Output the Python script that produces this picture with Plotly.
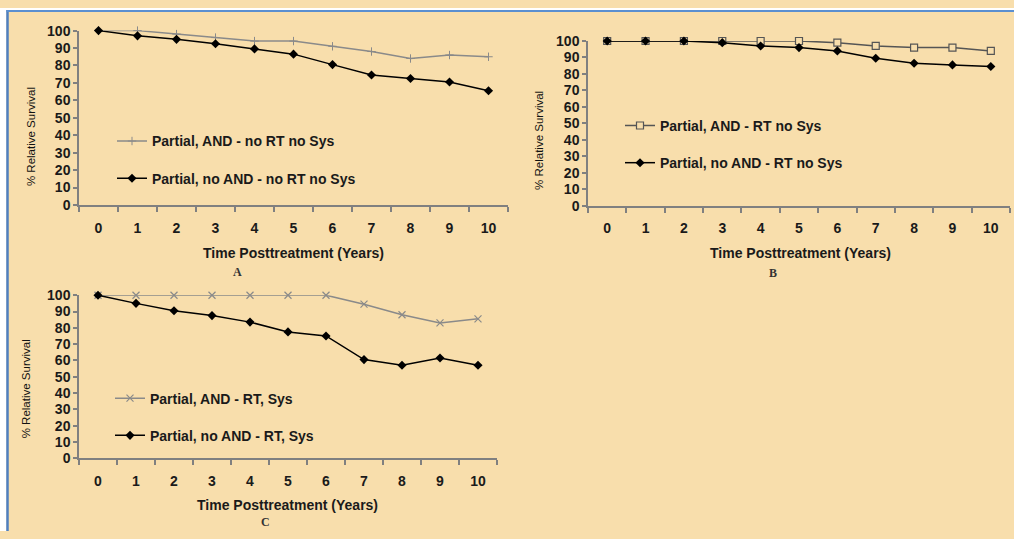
import plotly.graph_objects as go

W, H = 1014, 539

years = ["0", "1", "2", "3", "4", "5", "6", "7", "8", "9", "10"]
y_ticks = [0, 10, 20, 30, 40, 50, 60, 70, 80, 90, 100]

a_and = [100, 100, 98, 96, 94, 94, 91, 88, 84, 86, 85]
a_noand = [100, 97, 95, 92.5, 89.5, 86.5, 80.5, 74.5, 72.5, 70.5, 65.5]
b_and = [100, 100, 100, 100, 100, 100, 99, 97, 96, 96, 94]
b_noand = [100, 100, 100, 99, 97, 96, 94, 89.5, 86.5, 85.5, 84.5]
c_and = [100, 100, 100, 100, 100, 100, 100, 94.5, 88, 83, 85.5]
c_noand = [100, 95, 90.5, 87.5, 83.5, 77.5, 75, 60.5, 57, 61.5, 57]

names = {
    "a_and": "Partial, AND - no RT no Sys",
    "a_noand": "Partial, no AND - no RT no Sys",
    "b_and": "Partial, AND - RT no Sys",
    "b_noand": "Partial, no AND - RT no Sys",
    "c_and": "Partial, AND - RT, Sys",
    "c_noand": "Partial, no AND - RT, Sys",
}

BG = "#F8DEAC"
AXC = "#808080"
FONT = "Liberation Sans, Arial, sans-serif"
NARROW = "Liberation Sans Narrow, Arial Narrow, Liberation Sans, sans-serif"
SERIF = "Liberation Serif, Times New Roman, serif"


def px_x(p):
    return p / W


def px_y(p):
    return 1 - p / H


fig = go.Figure()

black = dict(color="black", width=1.5)

# Panel A
fig.add_trace(go.Scatter(x=years, y=a_and, name=names["a_and"], mode="lines+markers",
                         line=dict(color="#8a8a8a", width=1.5),
                         marker=dict(symbol="cross-thin", size=6, line=dict(color="#8a8a8a", width=1)),
                         xaxis="x", yaxis="y", legend="legend", legendgroup="a1", cliponaxis=False))
fig.add_trace(go.Scatter(x=years, y=a_noand, name=names["a_noand"], mode="lines+markers",
                         line=black, marker=dict(symbol="diamond", size=7, color="black"),
                         xaxis="x", yaxis="y", legend="legend", legendgroup="a2", cliponaxis=False))
# Panel B
fig.add_trace(go.Scatter(x=years, y=b_and, name=names["b_and"], mode="lines+markers",
                         line=dict(color="#555555", width=1.5),
                         marker=dict(symbol="square", size=7, color=BG, line=dict(color="#555555", width=1.2)),
                         xaxis="x2", yaxis="y2", legend="legend2", legendgroup="b1", cliponaxis=False))
fig.add_trace(go.Scatter(x=years, y=b_noand, name=names["b_noand"], mode="lines+markers",
                         line=black, marker=dict(symbol="diamond", size=7, color="black"),
                         xaxis="x2", yaxis="y2", legend="legend2", legendgroup="b2", cliponaxis=False))
# Panel C
fig.add_trace(go.Scatter(x=years, y=c_and, name=names["c_and"], mode="lines+markers",
                         line=dict(color="#8a8a8a", width=1.5),
                         marker=dict(symbol="x-thin", size=7, line=dict(color="#8a8a8a", width=1.2)),
                         xaxis="x3", yaxis="y3", legend="legend3", legendgroup="c1", cliponaxis=False))
fig.add_trace(go.Scatter(x=years, y=c_noand, name=names["c_noand"], mode="lines+markers",
                         line=black, marker=dict(symbol="diamond", size=7, color="black"),
                         xaxis="x3", yaxis="y3", legend="legend3", legendgroup="c2", cliponaxis=False))


def xax(domain, anchor):
    return dict(domain=domain, anchor=anchor, type="category", categoryorder="array",
                categoryarray=years, range=[-0.5, 10.5], tickson="boundaries",
                showline=True, linecolor=AXC, linewidth=1.5, ticks="outside", ticklen=5,
                tickwidth=1.5, tickcolor=AXC, showgrid=False, zeroline=False,
                ticklabelstandoff=9,
                tickfont=dict(family=FONT, size=14, color="#1a1a1a", weight="bold"))


def yax(domain, anchor):
    return dict(domain=domain, anchor=anchor, range=[0, 100], tickvals=y_ticks,
                showline=True, linecolor=AXC, linewidth=1.5, ticks="outside", ticklen=4,
                tickwidth=1.5, tickcolor=AXC, showgrid=False, zeroline=False,
                tickfont=dict(family=FONT, size=14, color="#1a1a1a", weight="bold"))


legfont = dict(family=FONT, size=14, color="#1a1a1a", weight="bold")


def leg(xp, yp):
    return dict(x=px_x(xp), y=px_y(yp), xanchor="left", yanchor="top", bgcolor="rgba(0,0,0,0)",
                borderwidth=0, font=legfont, traceorder="grouped", tracegroupgap=16,
                itemclick=False, itemdoubleclick=False)


annotations = []


def ann(text, xp, yp, font, angle=0):
    annotations.append(dict(text=text, x=px_x(xp), y=px_y(yp), xref="paper", yref="paper",
                            showarrow=False, font=font, textangle=angle,
                            xanchor="center", yanchor="middle"))


titlefont = dict(family=FONT, size=14, color="#1a1a1a", weight="bold")
yfont = dict(family=NARROW, size=11.5, color="#111111")
labfont = dict(family=SERIF, size=12, color="#333333", weight="bold")

ann("Time Posttreatment (Years)", 293, 253, titlefont)
ann("Time Posttreatment (Years)", 800, 252, titlefont)
ann("Time Posttreatment (Years)", 287, 512, titlefont)
ann("% Relative Survival", 31, 133, yfont, -90)
ann("% Relative Survival", 539, 137, yfont, -90)
ann("% Relative Survival", 26, 393, yfont, -90)
ann("A", 237, 272, labfont)
ann("B", 773, 273, labfont)
ann("C", 265, 530, labfont)

shapes = [
    dict(type="rect", xref="paper", yref="paper", x0=0, x1=px_x(6.5), y0=0, y1=1,
         fillcolor="white", line=dict(width=0), layer="above"),
    dict(type="rect", xref="paper", yref="paper", x0=0, x1=1, y0=px_y(2), y1=1,
         fillcolor="white", line=dict(width=0), layer="above"),
    dict(type="line", xref="paper", yref="paper", x0=px_x(7.5), x1=px_x(7.5), y0=0, y1=px_y(2),
         line=dict(color="#4F7FBF", width=2.5), layer="above"),
    dict(type="line", xref="paper", yref="paper", x0=px_x(6.5), x1=1, y0=px_y(3), y1=px_y(3),
         line=dict(color="#5B8FD0", width=2), layer="above"),
]

fig.update_layout(
    width=W, height=H,
    margin=dict(l=0, r=0, t=0, b=0),
    paper_bgcolor=BG, plot_bgcolor="rgba(0,0,0,0)",
    xaxis=xax([px_x(79), px_x(508)], "y"),
    yaxis=yax([px_y(203), px_y(23.3)], "x"),
    xaxis2=xax([px_x(588), px_x(1010)], "y2"),
    yaxis2=yax([px_y(204), px_y(34)], "x2"),
    xaxis3=xax([px_x(79), px_x(497)], "y3"),
    yaxis3=yax([px_y(464), px_y(296)], "x3"),
    legend=leg(112, 121),
    legend2=leg(620, 105),
    legend3=leg(110, 386),
    annotations=annotations,
    shapes=shapes,
    showlegend=True,
)

fig.write_html("out.html", config={"displayModeBar": False},
               post_script="document.body.style.margin='0';document.body.style.overflow='hidden';")
